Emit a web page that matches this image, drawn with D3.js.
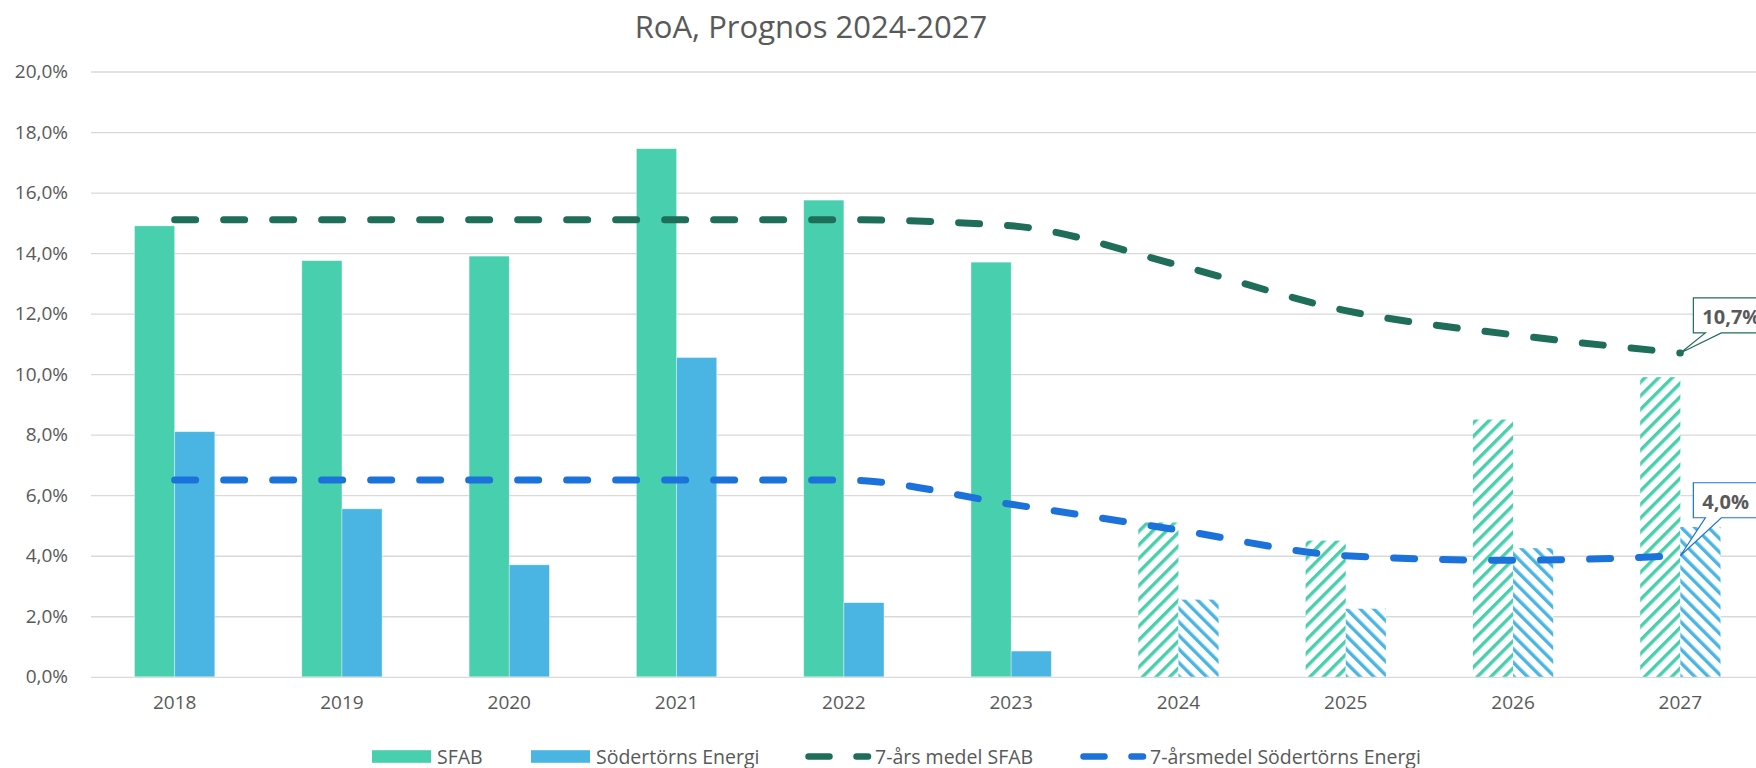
<!DOCTYPE html>
<html>
<head>
<meta charset="utf-8">
<script src="https://cdn.jsdelivr.net/npm/d3@7"></script>
<style>
  body { margin: 0; background: #fff; }
  text { font-family: "Segoe UI", "Open Sans", sans-serif; fill: #595959; }
</style>
</head>
<body>
<div class="canvas"></div>
<script>
// chart data
const years = ['2018', '2019', '2020', '2021', '2022', '2023', '2024', '2025', '2026', '2027'];
const forecastYears = ['2024', '2025', '2026', '2027'];
const sfab = [14.9, 13.75, 13.9, 17.45, 15.75, 13.7, 5.1, 4.5, 8.5, 9.9];
const soder = [8.1, 5.55, 3.7, 10.55, 2.45, 0.85, 2.55, 2.25, 4.25, 4.95];
const sfabAvg = [15.1, 15.1, 15.1, 15.1, 15.1, 14.9, 13.6, 12.1, 11.3, 10.7];
const soderAvg = [6.5, 6.5, 6.5, 6.5, 6.5, 5.7, 4.85, 4.0, 3.85, 4.0];
const yTicks = [0, 2, 4, 6, 8, 10, 12, 14, 16, 18, 20];
const seriesNames = ['SFAB', 'Södertörns Energi', '7-års medel SFAB', '7-årsmedel Södertörns Energi'];
const title = 'RoA, Prognos 2024-2027';

const dimensions = { width: 1756, height: 768 };
const plot = { left: 91, right: 1764, top: 71.5, bottom: 676.8 };

const colours = {
    sfab: '#48cfae',
    soder: '#4ab5e3',
    sfabAvg: '#1f6e5a',
    soderAvg: '#1b72da',
    grid: '#d9d9d9'
};

const locale = d3.formatLocale({ decimal: ',', thousands: ' ', grouping: [3], currency: ['', ''] });
const pct = v => locale.format('.1f')(v) + '%';

const svg = d3.select('.canvas')
    .append('svg')
    .attr('width', dimensions.width)
    .attr('height', dimensions.height);

// hatch patterns for the forecast years
const defs = svg.append('defs');
const hatch = (id, colour, angle) => {
    const p = defs.append('pattern')
        .attr('id', id)
        .attr('patternUnits', 'userSpaceOnUse')
        .attr('width', 9.6)
        .attr('height', 9.6)
        .attr('patternTransform', `rotate(${angle})`);
    p.append('rect').attr('width', 9.6).attr('height', 9.6).attr('fill', '#fff');
    p.append('rect').attr('width', 3.4).attr('height', 9.6).attr('fill', colour);
};
hatch('hatch-sfab', colours.sfab, 45);
hatch('hatch-soder', colours.soder, -45);

// scales
const x0 = d3.scaleBand()
    .domain(years)
    .range([plot.left, plot.right])
    .paddingInner(0.52)
    .paddingOuter(0.26);

const x1 = d3.scaleBand()
    .domain(['sfab', 'soder'])
    .range([0, x0.bandwidth()]);

const y = d3.scaleLinear()
    .domain([0, 20])
    .range([plot.bottom, plot.top]);

const cx = d => x0(d) + x0.bandwidth() / 2;

// title
svg.append('text')
    .attr('x', 811)
    .attr('y', 38)
    .attr('text-anchor', 'middle')
    .attr('font-size', 31)
    .text(title);

// y axis + gridlines
const yAxis = svg.append('g')
    .attr('transform', `translate(${plot.left}, 0)`)
    .call(d3.axisLeft(y)
        .tickValues(yTicks)
        .tickSize(-(plot.right - plot.left))
        .tickPadding(23)
        .tickFormat(pct));

yAxis.select('.domain').remove();
yAxis.selectAll('.tick line')
    .attr('stroke', colours.grid)
    .attr('stroke-width', 1.3);
yAxis.selectAll('.tick text')
    .attr('font-size', 19)
    .attr('fill', '#595959');

// x axis labels
const xAxis = svg.append('g')
    .attr('transform', `translate(0, ${plot.bottom})`)
    .call(d3.axisBottom(x0).tickSize(0).tickPadding(19));

xAxis.select('.domain').remove();
xAxis.selectAll('.tick text')
    .attr('font-size', 19)
    .attr('fill', '#595959');

// bars
const barData = years.map((yr, i) => ({ year: yr, sfab: sfab[i], soder: soder[i] }));
const isForecast = yr => forecastYears.includes(yr);

const groups = svg.append('g')
    .selectAll('g')
    .data(barData)
    .enter()
    .append('g')
    .attr('transform', d => `translate(${x0(d.year)}, 0)`);

groups.selectAll('rect')
    .data(d => ['sfab', 'soder'].map(k => ({ key: k, value: d[k], year: d.year })))
    .enter()
    .append('rect')
    .attr('x', d => x1(d.key))
    .attr('width', x1.bandwidth())
    .attr('y', d => y(d.value))
    .attr('height', d => y(0) - y(d.value))
    .attr('fill', d => isForecast(d.year) ? `url(#hatch-${d.key})` : colours[d.key])
    .attr('stroke', d => isForecast(d.year) ? 'none' : '#ffffff')
    .attr('stroke-opacity', 0.45)
    .attr('stroke-width', 0.8);

// smoothed 7-year average lines
const line = d3.line()
    .x((d, i) => cx(years[i]))
    .y(d => y(d))
    .curve(d3.curveMonotoneX);

const lines = [
    { values: sfabAvg, colour: colours.sfabAvg, lift: 20 },
    { values: soderAvg, colour: colours.soderAvg, lift: 38 }
];

svg.append('g')
    .selectAll('path')
    .data(lines)
    .enter()
    .append('path')
    .attr('fill', 'none')
    .attr('stroke', d => d.colour)
    .attr('stroke-width', 7)
    .attr('stroke-linecap', 'round')
    .attr('stroke-dasharray', '21,28')
    .attr('d', d => line(d.values));

// callout labels on the last point
lines.forEach(l => {
    const last = l.values.length - 1;
    const px = cx(years[last]);
    const py = y(l.values[last]);
    const left = px + 13;
    const bottom = py - l.lift;
    const g = svg.append('g');
    const label = g.append('text')
        .attr('x', left + 9)
        .attr('y', bottom - 9)
        .attr('font-size', 20)
        .attr('font-weight', 'bold')
        .text(pct(l.values[last]));
    const w = label.node().getComputedTextLength() + 17;
    const top = bottom - 35;
    g.insert('path', 'text')
        .attr('fill', '#fff')
        .attr('stroke', l.colour)
        .attr('stroke-width', 1.2)
        .attr('d', `M${left},${top} H${left + w} V${bottom} H${left + 28} L${px},${py} L${left + 12},${bottom} H${left} Z`);
});

// legend
const legendY = 756.5;
const legend = svg.append('g');

const swatches = [
    { name: seriesNames[0], x: 372, colour: colours.sfab },
    { name: seriesNames[1], x: 531, colour: colours.soder }
];
swatches.forEach(s => {
    legend.append('rect')
        .attr('x', s.x)
        .attr('y', legendY - 6.3)
        .attr('width', 59)
        .attr('height', 12.6)
        .attr('fill', s.colour);
    legend.append('text')
        .attr('x', s.x + 65)
        .attr('y', legendY + 7)
        .attr('font-size', 19.5)
        .text(s.name);
});

const dashes = [
    { name: seriesNames[2], x: 805, colour: colours.sfabAvg },
    { name: seriesNames[3], x: 1080, colour: colours.soderAvg }
];
dashes.forEach(s => {
    legend.append('line')
        .attr('x1', s.x + 3.5)
        .attr('x2', s.x + 63)
        .attr('y1', legendY)
        .attr('y2', legendY)
        .attr('stroke', s.colour)
        .attr('stroke-width', 6.5)
        .attr('stroke-linecap', 'round')
        .attr('stroke-dasharray', '21,27');
    legend.append('text')
        .attr('x', s.x + 70)
        .attr('y', legendY + 7)
        .attr('font-size', 19.5)
        .text(s.name);
});
</script>
</body>
</html>
